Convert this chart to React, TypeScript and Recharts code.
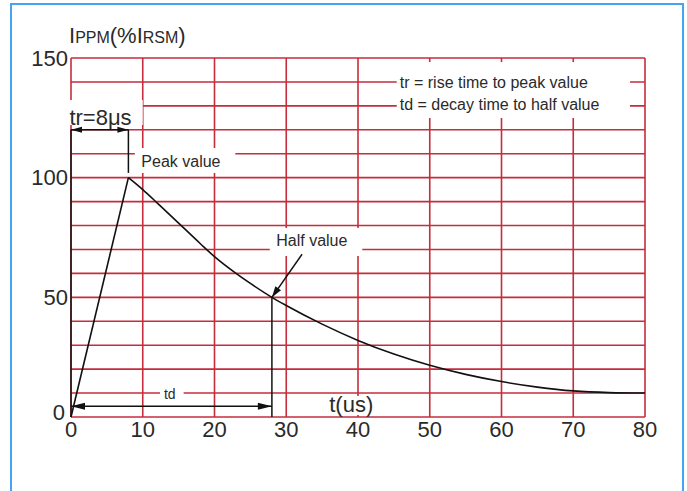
import { LineChart, Line, XAxis, YAxis, CartesianGrid, ReferenceArea, ReferenceLine } from 'recharts';

// impulse waveform, IPPM in % of IRSM vs time in us
const xTicks = [0, 10, 20, 30, 40, 50, 60, 70, 80];
const yTicks = [0, 10, 20, 30, 40, 50, 60, 70, 80, 90, 100, 110, 120, 130, 140, 150];
const yLabelEvery = 50;

const riseTimes = [0, 8];
const riseValues = [0, 100];

const decayTimes = [8, 10, 12, 15, 18, 20, 23, 25, 28, 30, 35, 40, 45, 50, 55, 60, 65, 70, 75, 80];
const decayValues = [100, 95, 89.5, 81, 72.5, 67, 60, 55.8, 50, 46.6, 38.8, 32, 26.3, 21.6, 17.8, 14.8, 12.5, 10.9, 10.2, 10];

const riseData = riseTimes.map((t, k) => ({ t, i: riseValues[k] }));
const decayData = decayTimes.map((t, k) => ({ t, i: decayValues[k] }));

const peakTime = 8;
const peakValue = 100;
const halfTime = 28;
const halfValue = 50;
const trLevel = 120;
const tdLevel = 4.5;

const legendLines = ['tr = rise time to peak value', 'td = decay time to half value'];

const GRID = '#c62d3c';
const INK = '#2a2a2a';
const FONT = '"Liberation Sans", Arial, sans-serif';

const arrow = (both: boolean, len: number, half: number) => (props: any) => {
	const { x1, y1, x2, y2 } = props;
	const d = Math.hypot(x2 - x1, y2 - y1) || 1;
	const ux = (x2 - x1) / d;
	const uy = (y2 - y1) / d;
	const head = (px: number, py: number, sx: number, sy: number) =>
		`${px},${py} ${px - sx * len - sy * half},${py - sy * len + sx * half} ${px - sx * len + sy * half},${py - sy * len - sx * half}`;
	return (
		<g>
			<line x1={x1} y1={y1} x2={x2} y2={y2} stroke='#111' strokeWidth={1.5} />
			{both && <polygon points={head(x1, y1, -ux, -uy)} fill='#111' />}
			<polygon points={head(x2, y2, ux, uy)} fill='#111' />
		</g>
	);
};

const boxText =
	(lines: string[], size: number, padX: number, firstBase: number, gap = 0) =>
	({ viewBox }: any) =>
		(
			<g>
				{lines.map((s, k) => (
					<text key={k} x={viewBox.x + padX} y={viewBox.y + firstBase + k * gap} fontSize={size} fill={INK} fontFamily={FONT}>
						{s}
					</text>
				))}
			</g>
		);

const Title = ({ viewBox }: any) => (
	<text x={viewBox.x + viewBox.width - 2} y={viewBox.y - 15} fill={INK} fontFamily={FONT} fontSize={22}>
		<tspan>I</tspan>
		<tspan fontSize={16}>PPM</tspan>
		<tspan>(%I</tspan>
		<tspan fontSize={16}>RSM</tspan>
		<tspan>)</tspan>
	</text>
);

// y labels only every 50; the "0" sits a little up and left, clear of the x "0"
const YTick = ({ x, y, payload }: any) => {
	const v = payload.value;
	if (v % yLabelEvery !== 0) return <g />;
	const lift = v === 0 ? 5 : 0;
	const shift = v === 0 ? 3 : 0;
	return (
		<text x={x - shift} y={y - lift} dy='0.355em' textAnchor='end' fill={INK} fontSize={22} fontFamily={FONT}>
			{v}
		</text>
	);
};

export default function App() {
	return (
		<div style={{ position: 'absolute', left: 0, top: 0, width: 687, height: 491, background: '#fff', overflow: 'hidden' }}>
			<div style={{ position: 'absolute', left: 10, top: 3, width: 670, height: 520, border: '2px solid #46a3f2' }} />
			<div style={{ position: 'absolute', left: 0, top: 0 }}>
				<LineChart width={687} height={491} margin={{ top: 58, right: 42, bottom: 44, left: 11 }} style={{ fontFamily: FONT }}>
					<CartesianGrid stroke={GRID} strokeWidth={1.6} />
					<XAxis
						type='number'
						dataKey='t'
						domain={[0, 80]}
						ticks={xTicks}
						interval={0}
						height={30}
						axisLine={false}
						tickLine={false}
						tickSize={0}
						tickMargin={4}
						tick={{ fill: INK, fontSize: 22 }}
					/>
					<YAxis
						type='number'
						domain={[0, 150]}
						ticks={yTicks}
						interval={0}
						width={60}
						axisLine={false}
						tickLine={false}
						tickSize={0}
						tickMargin={3}
						tick={YTick}
						label={{ content: Title }}
					/>
					<ReferenceArea x1={-0.5} x2={10} y1={122} y2={132.5} fill='#fff' fillOpacity={1} ifOverflow='visible' label={{ content: boxText(['tr=8μs'], 22, 2, 25.5) }} />
					<ReferenceArea x1={8.9} x2={22.9} y1={102} y2={112.4} fill='#fff' fillOpacity={1} ifOverflow='visible' label={{ content: boxText(['Peak value'], 16, 6.5, 19) }} />
					<ReferenceArea x1={45.4} x2={77.9} y1={124.9} y2={148.3} fill='#fff' fillOpacity={1} ifOverflow='visible' label={{ content: boxText(legendLines, 16, 3, 26, 22) }} />
					<ReferenceArea x1={27.7} x2={40.6} y1={67.3} y2={79} fill='#fff' fillOpacity={1} ifOverflow='visible' label={{ content: boxText(['Half value'], 16, 6.5, 18.5) }} />
					<ReferenceArea x1={12.4} x2={15.7} y1={6.3} y2={13} fill='#fff' fillOpacity={1} ifOverflow='visible' label={{ content: boxText(['td'], 14, 4, 13.5) }} />
					<ReferenceArea x1={35.5} x2={43.1} y1={0.8} y2={8.8} fill='#fff' fillOpacity={1} ifOverflow='visible' label={{ content: boxText(['t(us)'], 22, 3.5, 16) }} />

					<ReferenceLine segment={[{ x: 0, y: 0 }, { x: 0, y: trLevel }]} stroke='#111' strokeWidth={1.5} ifOverflow='visible' />
					<ReferenceLine segment={[{ x: peakTime, y: peakValue + 2 }, { x: peakTime, y: trLevel }]} stroke='#111' strokeWidth={1.5} ifOverflow='visible' />
					<ReferenceLine segment={[{ x: 0, y: trLevel }, { x: peakTime, y: trLevel }]} ifOverflow='visible' shape={arrow(true, 11, 3)} />
					<ReferenceLine segment={[{ x: halfTime, y: 0 }, { x: halfTime, y: halfValue }]} stroke='#111' strokeWidth={1.5} ifOverflow='visible' />
					<ReferenceLine segment={[{ x: 0, y: tdLevel }, { x: halfTime, y: tdLevel }]} ifOverflow='visible' shape={arrow(true, 14, 3.5)} />
					<ReferenceLine segment={[{ x: 32.2, y: 68 }, { x: halfTime, y: halfValue }]} ifOverflow='visible' shape={arrow(false, 11, 3.5)} />

					<Line data={riseData} dataKey='i' type='linear' stroke='#111' strokeWidth={1.6} dot={false} isAnimationActive={false} />
					<Line data={decayData} dataKey='i' type='monotone' stroke='#111' strokeWidth={1.6} dot={false} isAnimationActive={false} />
				</LineChart>
			</div>
		</div>
	);
}
